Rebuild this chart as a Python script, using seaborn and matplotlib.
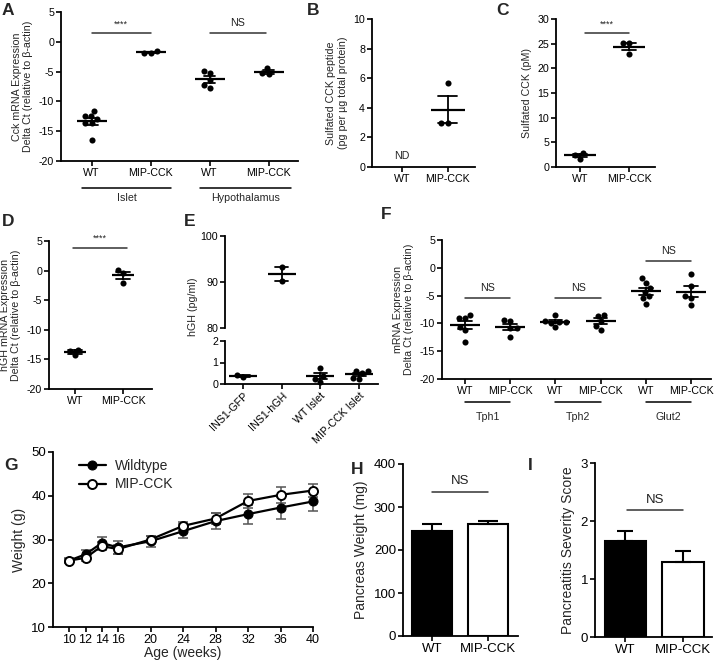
import numpy as np
import pandas as pd
import matplotlib
matplotlib.use("Agg")
import matplotlib.pyplot as plt
import seaborn as sns

# ---- values ----
# A: Cck mRNA, delta Ct
cck_islet_wt = [-11.6, -12.5, -12.5, -13.0, -13.6, -13.6, -16.5]
cck_islet_mip = [-1.5, -1.9, -1.9]
cck_hypo_wt = [-4.9, -5.3, -6.4, -7.2, -7.8]
cck_hypo_mip = [-4.4, -5.3, -5.4]
geno_labels = ["WT", "MIP-CCK"]
a_tissues = ["Islet", "Hypothalamus"]

# B: sulfated CCK peptide (WT not detected)
pep_wt = []
pep_mip = [5.65, 3.0, 3.0]

# C: sulfated CCK (pM)
scck_wt = [2.8, 2.5, 1.7]
scck_mip = [25.1, 25.1, 22.9]

# D: hGH mRNA, delta Ct
hgh_mrna_wt = [-13.4, -14.3, -13.6]
hgh_mrna_mip = [0.1, -0.45, -2.1]

# E: hGH (pg/ml)
e_labels = ["INS1-GFP", "INS1-hGH", "WT Islet", "MIP-CCK Islet"]
hgh_ins1_gfp = [0.31, 0.4]
hgh_ins1_hgh = [93.3, 90.2]
hgh_wt_islet = [0.75, 0.35, 0.25, 0.1]
hgh_mip_islet = [0.6, 0.6, 0.5, 0.3, 0.25]

# F: mRNA expression, delta Ct
f_genes = ["Tph1", "Tph2", "Glut2"]
tph1_wt = [-8.5, -9.1, -9.1, -10.6, -11.2, -13.3]
tph1_mip = [-9.3, -9.5, -10.9, -10.9, -12.5]
tph2_wt = [-8.5, -9.5, -9.7, -9.9, -9.8, -10.7]
tph2_mip = [-8.4, -8.6, -9.6, -10.4, -11.1]
glut2_wt = [-1.8, -2.7, -3.7, -4.3, -5.1, -5.5, -6.5]
glut2_mip = [-1.2, -3.2, -5.0, -5.5, -6.7]

# G: body weight over time (mean, SEM)
age_weeks = [10, 12, 14, 16, 20, 24, 28, 32, 36, 40]
weight_wt = [25.2, 26.6, 29.2, 28.2, 29.6, 31.9, 34.2, 35.8, 37.3, 38.7]
weight_wt_sem = [0.5, 1.0, 1.3, 1.4, 1.3, 1.6, 1.9, 2.2, 2.5, 2.2]
weight_mip = [25.2, 25.8, 28.5, 27.8, 30.0, 33.1, 34.8, 38.8, 40.2, 41.2]
weight_mip_sem = [0.4, 0.6, 1.0, 1.0, 0.8, 1.0, 1.2, 1.6, 1.8, 1.5]

# H / I: bars (mean, SEM)
pancreas_weight = [245, 260.5]
pancreas_weight_sem = [15, 8]
severity = [1.66, 1.29]
severity_sem = [0.16, 0.20]

sns.set_theme(style="ticks")
plt.rcParams["font.family"] = ["Liberation Sans", "DejaVu Sans"]
plt.rcParams["axes.unicode_minus"] = False

W, H = 714, 666
fig = plt.figure(figsize=(W / 100, H / 100), dpi=100)


def box(x0, y0, x1, y1):
    return fig.add_axes([x0 / W, 1 - y1 / H, (x1 - x0) / W, (y1 - y0) / H])


def style(ax, fs=7.7):
    sns.despine(ax=ax)
    for s in ["left", "bottom"]:
        ax.spines[s].set_linewidth(1.3)
        ax.spines[s].set_color("black")
    ax.tick_params(direction="out", length=3.5, width=1.2, color="black",
                   labelsize=fs, pad=1.5, labelcolor="black")


def dots(ax, groups, width, cap, size=4.4):
    keys = [f"g{i}" for i in range(len(groups))]
    df = pd.DataFrame({"key": np.repeat(keys, [len(g) for g in groups]),
                       "val": np.concatenate([np.asarray(g, float) for g in groups])})
    sns.swarmplot(data=df, x="key", y="val", order=keys, color="black",
                  size=size, ax=ax)
    sns.pointplot(data=df, x="key", y="val", order=keys, errorbar="se",
                  capsize=cap, color="black", markers="_", linestyles="none",
                  markersize=width, markeredgewidth=1.6,
                  err_kws={"linewidth": 1.3}, ax=ax)
    ax.set_xticks(range(len(keys)))
    ax.set_xlabel("")
    return keys


def sig(ax, x0, x1, y, ty, text, fs=7.7):
    ax.plot([x0, x1], [y, y], color="#333333", lw=1.1, clip_on=False)
    ax.text((x0 + x1) / 2, ty, text, ha="center", va="center", fontsize=fs,
            color="#222222", clip_on=False)


def under(ax, x0, x1, y, ty, text, fs=7.7):
    tr = ax.get_xaxis_transform()
    ax.plot([x0, x1], [y, y], color="black", lw=1.1, transform=tr, clip_on=False)
    ax.text((x0 + x1) / 2, ty, text, ha="center", va="center", fontsize=fs,
            transform=tr)


# ---- A ----
ax = box(61, 12, 298, 161)
dots(ax, [cck_islet_wt, cck_islet_mip, cck_hypo_wt, cck_hypo_mip], 21.6, 0.2)
ax.set_xticklabels(geno_labels * 2)
ax.set(xlim=(-0.52, 3.5), ylim=(-20, 5), yticks=range(-20, 6, 5))
ax.set_ylabel("Cck mRNA Expression\nDelta Ct (relative to β-actin)", fontsize=7.7)
style(ax)
sig(ax, 0, 1, 1.5, 3.0, "****", fs=6.5)
sig(ax, 2, 2.95, 1.5, 3.1, "NS")
under(ax, -0.17, 1.35, -0.18, -0.25, a_tissues[0])
under(ax, 1.83, 3.38, -0.18, -0.25, a_tissues[1])

# ---- B ----
ax = box(372, 19, 475, 167)
dots(ax, [pep_wt, pep_mip], 24.5, 0.4)
ax.set_xticklabels(geno_labels)
ax.set(xlim=(-0.65, 1.6), ylim=(0, 10), yticks=range(0, 11, 2))
ax.set_ylabel("Sulfated CCK peptide\n(pg per µg total protein)", fontsize=7.7)
style(ax)
ax.text(0, 0.75, "ND", ha="center", va="center", fontsize=7.7)

# ---- C ----
ax = box(556, 19, 655, 167)
dots(ax, [scck_wt, scck_mip], 23, 0.3)
ax.set_xticklabels(geno_labels)
ax.set(xlim=(-0.49, 1.53), ylim=(0, 30), yticks=range(0, 31, 5))
ax.set_ylabel("Sulfated CCK (pM)", fontsize=7.7)
style(ax)
sig(ax, 0.1, 1.0, 27.1, 28.9, "****", fs=6.5)

# ---- D ----
ax = box(49, 241, 152, 389)
dots(ax, [hgh_mrna_wt, hgh_mrna_mip], 16.5, 0.3)
ax.set_xticklabels(geno_labels)
ax.set(xlim=(-0.54, 1.6), ylim=(-20, 5), yticks=range(-20, 6, 5))
ax.set_ylabel("hGH mRNA Expression\nDelta Ct (relative to β-actin)", fontsize=7.7)
style(ax)
sig(ax, -0.05, 1.08, 3.9, 5.4, "****", fs=6.5)

# ---- E (broken axis) ----
ax_top = box(225, 236, 378, 328)
dots(ax_top, [[], hgh_ins1_hgh, [], []], 19.5, 0.34)
ax_top.set(xlim=(-0.47, 3.49), ylim=(80, 100), yticks=[80, 90, 100], ylabel="")
style(ax_top)
ax_top.spines["bottom"].set_visible(False)
ax_top.tick_params(axis="x", bottom=False, labelbottom=False)

ax = box(225, 341, 378, 384)
dots(ax, [hgh_ins1_gfp, [], hgh_wt_islet, hgh_mip_islet], 19.5, 0.34)
for c in ax.collections + ax.lines:
    c.set_clip_on(False)
ax.set(xlim=(-0.47, 3.49), ylim=(0, 2), yticks=[0, 1, 2], ylabel="")
ax.set_xticklabels(e_labels, rotation=45, ha="right", rotation_mode="anchor")
style(ax)
fig.text(193 / W, 1 - 307 / H, "hGH (pg/ml)", rotation=90, ha="center",
         va="center", fontsize=7.7)

# ---- F ----
ax = box(442, 240, 711, 379)
dots(ax, [tph1_wt, tph1_mip, tph2_wt, tph2_mip, glut2_wt, glut2_mip], 21.6, 0.3)
ax.set_xticklabels(geno_labels * 3)
ax.set(xlim=(-0.51, 5.44), ylim=(-20, 5), yticks=range(-20, 6, 5))
ax.set_ylabel("mRNA Expression\nDelta Ct (relative to β-actin)", fontsize=7.7)
style(ax)
sig(ax, 0, 1, -5.5, -3.7, "NS")
sig(ax, 2, 3, -5.5, -3.7, "NS")
sig(ax, 4, 5, 1.2, 3.0, "NS")
for i, g in enumerate(f_genes):
    under(ax, 2 * i, 2 * i + 1, -0.163, -0.27, g)

# ---- G ----
ax = box(53, 452, 313, 627)
ax.errorbar(age_weeks, weight_wt, yerr=weight_wt_sem, fmt="none", ecolor="#555555",
            elinewidth=1.1, capsize=3.5, capthick=1.1, zorder=1, clip_on=False)
ax.errorbar(age_weeks, weight_mip, yerr=weight_mip_sem, fmt="none", ecolor="#555555",
            elinewidth=1.1, capsize=3.5, capthick=1.1, zorder=1, clip_on=False)
sns.lineplot(x=age_weeks, y=weight_wt, color="black", marker="o", markersize=6.5,
             markerfacecolor="black", markeredgecolor="black", lw=1.6,
             label="Wildtype", ax=ax, zorder=3, clip_on=False)
sns.lineplot(x=age_weeks, y=weight_mip, color="black", marker="o", markersize=6.5,
             markerfacecolor="white", markeredgecolor="black", markeredgewidth=1.4,
             lw=1.6, label="MIP-CCK", ax=ax, zorder=4, clip_on=False)
ax.set(xlim=(8, 40), ylim=(10, 50), xticks=age_weeks, yticks=range(10, 51, 10))
ax.set_xlabel("Age (weeks)", fontsize=10, labelpad=0)
ax.set_ylabel("Weight (g)", fontsize=10)
style(ax, fs=9)
ax.tick_params(axis="y", labelsize=9.5)
ax.legend(loc="upper left", bbox_to_anchor=(0.05, 1.03), frameon=False,
          fontsize=10, handlelength=2.0, labelspacing=0.3, handletextpad=0.6)

# ---- H ----
ax = box(403, 464, 518, 636)
sns.barplot(x=geno_labels, y=pancreas_weight, hue=geno_labels,
            palette=["black", "white"], edgecolor="black", linewidth=1.5,
            width=0.71, legend=False, ax=ax)
ax.errorbar([0, 1], pancreas_weight, yerr=[[0, 0], pancreas_weight_sem], fmt="none",
            ecolor="black", elinewidth=1.5, capsize=7, capthick=1.5)
ax.set(xlim=(-0.52, 1.54), ylim=(0, 400), yticks=range(0, 401, 100))
ax.set_ylabel("Pancreas Weight (mg)", fontsize=10)
style(ax, fs=9.5)
sig(ax, 0, 1, 335, 361, "NS", fs=9.5)

# ---- I ----
ax = box(595, 463, 712, 637)
sns.barplot(x=geno_labels, y=severity, hue=geno_labels,
            palette=["black", "white"], edgecolor="black", linewidth=1.5,
            width=0.71, legend=False, ax=ax)
ax.errorbar([0, 1], severity, yerr=[[0, 0], severity_sem], fmt="none",
            ecolor="black", elinewidth=1.5, capsize=6, capthick=1.5)
ax.set(xlim=(-0.52, 1.5), ylim=(0, 3), yticks=range(0, 4))
ax.set_ylabel("Pancreatitis Severity Score", fontsize=10)
style(ax, fs=9.5)
sig(ax, 0.03, 1, 2.19, 2.37, "NS", fs=9.5)

# panel letters
for letter, (px, py) in {"A": (2, 3), "B": (307, 3), "C": (496, 3), "D": (2, 214),
                         "E": (184, 214), "F": (381, 207), "G": (4, 458),
                         "H": (351, 462), "I": (528, 458)}.items():
    fig.text(px / W, 1 - py / H, letter, fontsize=12.5, fontweight="bold",
             ha="left", va="top")

fig.savefig("out.png", dpi=100)
